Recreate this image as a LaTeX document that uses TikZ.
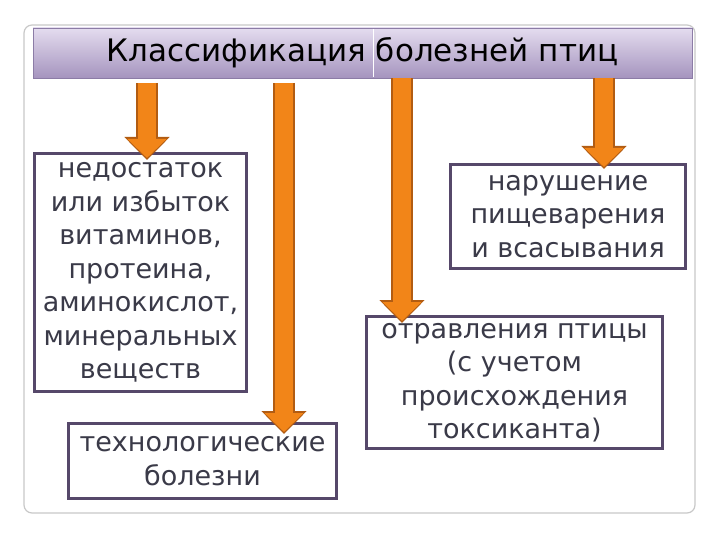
\documentclass[tikz,border=0pt]{standalone}
\usepackage{fontspec}
\setmainfont{DejaVu Sans}
\usepackage{xcolor}
\usetikzlibrary{arrows.meta,positioning,calc}
\definecolor{boxline}{HTML}{56486A}
\definecolor{boxtext}{HTML}{3A3A48}
\definecolor{titletop}{HTML}{E4DCEF}
\definecolor{titlebot}{HTML}{A594BE}
\definecolor{titleline}{HTML}{8C7CA6}
\definecolor{arrowfill}{HTML}{F28518}
\definecolor{arrowedge}{HTML}{B25C12}
\definecolor{framegray}{HTML}{C8C8C8}

\begin{document}
\begin{tikzpicture}[x=1pt,y=-1pt,
  catbox/.style={draw=boxline,line width=3pt,fill=white,align=center,text=boxtext,
    font=\fontsize{27}{33.5}\selectfont,inner sep=0pt},
  arrowback/.style={draw=arrowedge,line width=22pt,-{Triangle[width=44pt,length=23pt]}},
  arrowfront/.style={draw=arrowfill,line width=18pt,shorten >=2pt,-{Triangle[width=38pt,length=19pt]}}]
\useasboundingbox (0,0) rectangle (720,540);
\draw[framegray,line width=1.2pt,rounded corners=8pt] (24,25) rectangle (695,513);
% category boxes, sized to the slide
\node[catbox,minimum width=212pt,minimum height=238pt] (b1) at (140.5,272.5)
  {недостаток\\или избыток\\витаминов,\\протеина,\\аминокислот,\\минеральных\\веществ};
\node[catbox,minimum width=268pt,minimum height=75pt] (b2) at (202.5,461)
  {технологические\\болезни};
\node[catbox,minimum width=235pt,minimum height=104pt] (b3) at (568,216.5)
  {нарушение\\пищеварения\\и всасывания};
\node[catbox,minimum width=296pt,minimum height=132pt] (b4) at (514.5,382.5)
  {отравления птицы\\(с учетом\\происхождения\\токсиканта)};
\node[shade,top color=titletop,bottom color=titlebot,draw=titleline,line width=0.8pt,
  minimum width=659pt,minimum height=50pt,font=\fontsize{31}{36}\selectfont] (title) at (362.5,53)
  {Классификация болезней птиц};
\draw[white,line width=0.8pt] (373,29) -- (373,77);
% arrow tips sit just inside each box
\coordinate (a1) at (147,160);
\coordinate (a2) at (284,434);
\coordinate (a3) at (402,323);
\coordinate (a4) at (604,169);
\coordinate (s1) at (147,83);
\coordinate (s2) at (284,83);
\foreach \s/\e in {s1/a1,s2/a2,title.south -| a3/a3,title.south -| a4/a4}{
  \draw[arrowback] (\s) -- (\e);
  \draw[arrowfront] (\s) -- (\e);
}
\end{tikzpicture}
\end{document}
